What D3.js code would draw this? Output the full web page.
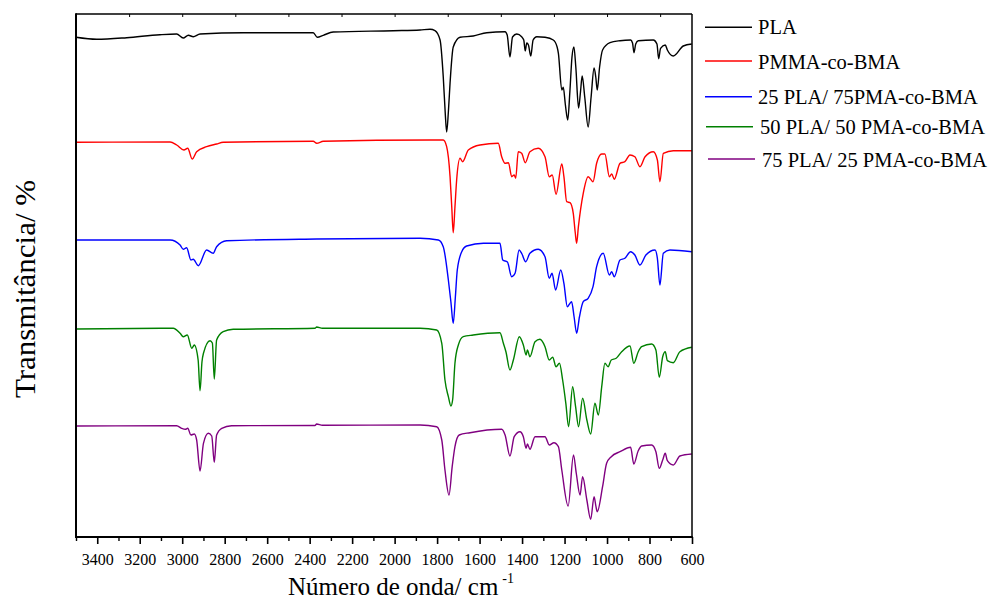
<!DOCTYPE html>
<html><head><meta charset="utf-8">
<script src="https://cdn.jsdelivr.net/npm/d3@7"></script>
<style>body{margin:0;background:#fff} svg{display:block} text{font-family:'Liberation Serif','Times New Roman',Times,serif}</style>
</head><body>
<svg id="chart" width="995" height="601"></svg>
<script>
// ---- DATA (wavenumber cm^-1, transmittance in offset plot units) ----
const seriesNames = ["PLA", "PMMA-co-BMA", "25 PLA/ 75PMA-co-BMA", "50 PLA/ 50 PMA-co-BMA", "75 PLA/ 25 PMA-co-BMA"];
const seriesColors = ["#000000", "#ff0000", "#0000ff", "#008000", "#800080"];

const plaData = [
 [3500,499.7],[3403,497.7],[3261,499.3],[3105,502.3],[3026,503],[2995,499],[2971,501.7],[2948,500.3],[2916,503],
 [2712,504.3],[2383,504.3],[2364,499.7],[2336,501.7],[2289,505],[2006,506.3],[1880,507],[1833,507.7],[1810,506.3],
 [1786,497],[1771,460],[1762,425],[1755,405],[1747,425],[1739,454],[1724,490],[1692,499.7],[1630,501],[1566,504.3],
 [1480,505.3],[1470,502],[1457,480],[1445,500],[1425,503],[1402,500.3],[1392,497],[1385,486],[1378,494],[1370,492],
 [1359,481],[1348,497],[1331,500.3],[1292,499.7],[1253,497],[1235,490],[1229,483.7],[1213,447],[1206,449.7],
 [1196,432],[1185,417],[1175,445],[1165,480],[1156,490],[1147,470],[1134,429],[1125,445],[1117,461],[1105,440],
 [1089,410],[1075,440],[1061,469],[1053,460],[1046,447],[1035,470],[1021,487],[986,494.3],[939,496.3],[889,497],
 [880,494],[873,484.3],[865,493],[853,496.3],[782,497],[765,493],[757,478.3],[748,488.7],[726,492],[716,487],
 [688,481],[641,491],[601,493]
];
const pmmaData = [
 [3500,394.7],[3057,395],[3026,392],[2992,387],[2974,388.7],[2953,378],[2932,385.3],[2885,390.3],[2838,393],
 [2807,394.7],[2383,395.7],[2367,393.7],[2336,395.7],[1833,397],[1771,397],[1755,390.3],[1739,360.3],[1731,330],
 [1724,304.3],[1716,330],[1708,357],[1692,378.7],[1680,375.3],[1653,387],[1598,392],[1512,393.7],[1496,380.3],
 [1480,373.7],[1464,374.3],[1449,360.3],[1437,362],[1430,358.7],[1418,385.3],[1402,383.7],[1385,374.3],[1363,385.3],
 [1324,388.7],[1292,380.3],[1272,360.3],[1258,362],[1240,342.7],[1213,373],[1203,360.3],[1190,335.3],[1174,334.3],
 [1159,323.7],[1150,305],[1143,293.7],[1135,310],[1112,343.7],[1089,360.3],[1066,355.3],[1049,373.7],[1025,383],
 [1010,383],[989,360.3],[978,363],[966,357.7],[939,373.7],[916,375.3],[892,382],[869,380.3],[845,370.3],[821,380.3],
 [782,385.3],[763,377],[751,355.3],[735,383.7],[688,386.3],[601,386.3]
];
const blend25Data = [
 [3500,297],[3057,297],[3010,292],[2995,287.7],[2979,289.3],[2959,277],[2948,277.7],[2924,271.3],[2885,287],
 [2854,283.7],[2838,290.3],[2791,296.3],[2367,298],[1880,298.7],[1794,297],[1771,290.3],[1747,257],[1735,235],
 [1724,213.7],[1714,240],[1705,267],[1684,285.3],[1661,291],[1582,293.7],[1504,293.7],[1491,277],[1469,275],
 [1449,260.3],[1433,263.7],[1414,287],[1402,283.7],[1383,275.3],[1363,283.7],[1324,287.7],[1292,280.3],[1272,258.7],
 [1259,263.7],[1242,247],[1218,267],[1203,253.7],[1187,230.3],[1167,235.3],[1155,220],[1143,203.7],[1130,220],
 [1112,235.3],[1089,238.7],[1066,250.3],[1049,270.3],[1018,283.7],[989,262],[978,265.3],[966,260.3],[939,277],
 [916,278.7],[889,285.3],[869,282],[845,272],[817,282],[774,287],[763,278.7],[751,252],[735,283.7],[704,287],[601,285.3]
];
const blend50Data = [
 [3500,208],[3042,208.7],[3010,203.7],[2995,200.3],[2976,202],[2955,188.7],[2943,192],[2925,177],[2916,146.3],
 [2907,175],[2900,183.7],[2869,196.3],[2858,194],[2849,158],[2838,197],[2807,205.3],[2760,207.7],[2375,208.7],
 [2367,210],[2340,208.7],[1880,208.7],[1802,207],[1778,193.7],[1763,157],[1747,140.3],[1735,131],[1727,137],
 [1716,173.7],[1700,192],[1677,200.3],[1630,202],[1504,204.3],[1488,193.7],[1476,185.3],[1457,167],[1441,177],
 [1413,200.3],[1394,192],[1381,182],[1375,187],[1363,180.3],[1339,195.3],[1316,197.7],[1292,190.3],[1272,177],
 [1256,179.7],[1240,170.3],[1224,173.7],[1209,157],[1194,133.7],[1181,110.3],[1162,150.3],[1148,130.3],[1134,110.3],
 [1115,138.7],[1095,117],[1077,103],[1057,133.7],[1041,122],[1025,150.3],[1010,173.7],[995,170.3],[980,177],
 [957,178.7],[931,185.3],[892,191],[874,173.7],[853,185.3],[837,190.3],[790,193],[770,187],[754,159.7],[738,180.3],
 [726,185.3],[716,176.3],[688,174.3],[657,185.3],[601,189.7]
];
const blend75Data = [
 [3500,111],[3026,111.3],[3003,108.7],[2985,107.7],[2974,108.7],[2959,102],[2943,103],[2932,97],[2916,66],
 [2900,93.7],[2877,103.7],[2861,101],[2849,74.7],[2838,102],[2814,108.7],[2768,111.3],[2375,111.5],[2367,113],
 [2340,111.7],[1880,112],[1802,110.3],[1778,97],[1763,67],[1744,42],[1729,70.3],[1716,90.3],[1696,102],[1645,104.3],
 [1496,107.7],[1480,102],[1457,81],[1437,100.3],[1410,105.3],[1394,100.3],[1381,88.7],[1375,93],[1363,87.7],
 [1339,100.3],[1292,100.3],[1272,92],[1250,94.3],[1229,90.3],[1213,67],[1183,31],[1158,82],[1145,64],[1127,42],
 [1115,60.3],[1095,37],[1077,17.7],[1061,40.3],[1052,30.3],[1046,25.3],[1021,50.3],[1002,73.7],[980,80.3],
 [939,85.3],[889,89.7],[874,73],[853,86.3],[837,91],[790,92],[770,85.3],[754,68.7],[738,77],[726,83.7],[716,76.3],
 [688,72],[657,81],[601,83]
];
const allSeries = [plaData, pmmaData, blend25Data, blend50Data, blend75Data];

const xTicksMajor = [3400,3200,3000,2800,2600,2400,2200,2000,1800,1600,1400,1200,1000,800,600];
const xTicksMinor = [3500,3300,3100,2900,2700,2500,2300,2100,1900,1700,1500,1300,1100,900,700];
const xTicksTop = [3250,3000,2750,2500,2250,2000,1750,1500,1250,1000,750];
const xTitle = "Número de onda/ cm";
const xTitleSup = "-1";
const yTitle = "Transmitância/ %";

// ---- LAYOUT ----
const L = 76, R = 692, T = 14, B = 537;
const font = "'Liberation Serif','Times New Roman',Times,serif";
const svg = d3.select("#chart");

const x = d3.scaleLinear().domain([3500, 600]).range([L, R]);
const y = d3.scaleLinear().domain([0, 523]).range([B, T]);

const line = d3.line().x(d => x(d[0])).y(d => y(d[1])).curve(d3.curveMonotoneX);

const plot = svg.append("g");
allSeries.forEach((s, i) => {
  plot.append("path").datum(s)
    .attr("d", line)
    .attr("fill", "none")
    .attr("stroke", seriesColors[i])
    .attr("stroke-width", 1.4)
    .attr("stroke-linejoin", "round");
});

// bottom axis
const gB = svg.append("g").attr("transform", `translate(0,${B})`);
gB.call(d3.axisBottom(x).tickValues(xTicksMajor).tickSize(7).tickPadding(10).tickFormat(d3.format("d")));
gB.attr("font-family", null);
gB.select(".domain").remove();
gB.selectAll(".tick line").attr("stroke", "#000").attr("stroke-width", 1.6);
gB.selectAll(".tick text").style("font-family", font).attr("font-size", 16).attr("fill", "#000");
const gBm = svg.append("g").attr("transform", `translate(0,${B})`);
gBm.call(d3.axisBottom(x).tickValues(xTicksMinor).tickSize(4).tickFormat(""));
gBm.select(".domain").remove();
gBm.selectAll(".tick line").attr("stroke", "#000").attr("stroke-width", 1.4);

// top axis (inward small ticks)
const gT = svg.append("g").attr("transform", `translate(0,${T})`);
gT.call(d3.axisBottom(x).tickValues(xTicksTop).tickSize(3).tickFormat(""));
gT.select(".domain").remove();
gT.selectAll(".tick line").attr("stroke", "#000").attr("stroke-width", 1);

// frame
svg.append("line").attr("x1", L).attr("x2", R).attr("y1", T).attr("y2", T).attr("stroke", "#000").attr("stroke-width", 1.5);
svg.append("line").attr("x1", R).attr("x2", R).attr("y1", T).attr("y2", B).attr("stroke", "#000").attr("stroke-width", 1.5);
svg.append("line").attr("x1", L).attr("x2", L).attr("y1", T - 0.75).attr("y2", B + 1).attr("stroke", "#000").attr("stroke-width", 2);
svg.append("line").attr("x1", L - 1).attr("x2", R + 0.75).attr("y1", B).attr("y2", B).attr("stroke", "#000").attr("stroke-width", 2);

// axis titles
const xt = svg.append("text").attr("x", 288).attr("y", 595)
  .attr("font-size", 25).attr("fill", "#000").text(xTitle);
const xtEnd = 288 + xt.node().getComputedTextLength();
svg.append("text").attr("x", xtEnd + 4).attr("y", 583)
  .attr("font-size", 14).attr("fill", "#000").text(xTitleSup);

svg.append("text").attr("transform", "translate(35,289) rotate(-90)")
  .attr("text-anchor", "middle")
  .attr("font-size", 29).attr("fill", "#000")
  .attr("textLength", 218).attr("lengthAdjust", "spacingAndGlyphs")
  .text(yTitle);

// legend
const legLineY = [27.3, 61, 96.7, 126.7, 159];
const legTextY = [33.8, 68.8, 103.5, 133.5, 166.5];
const legX1 = [705, 705, 705, 706, 708];
const legX2 = [752, 752, 752, 753, 755];
const legTX = [758, 758, 758, 760, 762];
seriesNames.forEach((n, i) => {
  svg.append("line").attr("x1", legX1[i]).attr("x2", legX2[i]).attr("y1", legLineY[i]).attr("y2", legLineY[i])
    .attr("stroke", seriesColors[i]).attr("stroke-width", 1.4);
  svg.append("text").attr("x", legTX[i]).attr("y", legTextY[i])
    .attr("font-size", 20.5).attr("fill", "#000").text(n);
});
</script>
</body></html>
